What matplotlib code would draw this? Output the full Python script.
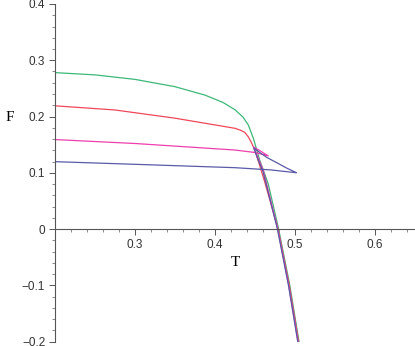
import matplotlib
matplotlib.use('Agg')
import matplotlib.pyplot as plt
import numpy as np
from matplotlib.ticker import MultipleLocator, FuncFormatter

# Data (T, F) for each curve
green_T = [0.200, 0.250, 0.300, 0.350, 0.3875, 0.410, 0.425, 0.435, 0.4416, 0.448, 0.456, 0.4666, 0.4795, 0.4935, 0.5050]
green_F = [0.278, 0.274, 0.266, 0.253, 0.238, 0.225, 0.212, 0.199, 0.185, 0.161, 0.122, 0.080, 0.000, -0.100, -0.200]

red_T = [0.200, 0.275, 0.350, 0.425, 0.4312, 0.4370, 0.4416, 0.445, 0.450, 0.4625, 0.4788, 0.4928, 0.5044]
red_F = [0.219, 0.2116, 0.197, 0.179, 0.176, 0.172, 0.164, 0.155, 0.140, 0.082, 0.000, -0.100, -0.200]

magenta_T = [0.200, 0.300, 0.425, 0.450, 0.4666, 0.4570, 0.4479, 0.4535, 0.4604, 0.4785, 0.4922, 0.5038]
magenta_F = [0.159, 0.152, 0.1404, 0.136, 0.130, 0.1385, 0.146, 0.128, 0.104, 0.000, -0.100, -0.200]

blue_T = [0.200, 0.300, 0.425, 0.470, 0.502, 0.490, 0.477, 0.465, 0.456, 0.4485, 0.4525, 0.4600, 0.4780, 0.4918, 0.5034]
blue_F = [0.1197, 0.115, 0.109, 0.105, 0.100, 0.108, 0.118, 0.127, 0.136, 0.144, 0.128, 0.102, 0.000, -0.100, -0.200]

curves = [
    (green_T, green_F, '#3cb878'),
    (red_T, red_F, '#f0485a'),
    (magenta_T, magenta_F, '#ee3fae'),
    (blue_T, blue_F, '#5a5aa8'),
]

fig = plt.figure(figsize=(4.15, 3.46), dpi=100)
ax = fig.add_axes([55 / 415, 4.5 / 346, 360 / 415, 337.5 / 346])

for T, F, c in curves:
    ax.plot(T, F, color=c, lw=0.9, solid_joinstyle='round')

ax.set_xlim(0.2, 0.65)
ax.set_ylim(-0.2, 0.4)

# Maple style axes: x axis through F=0, y axis at left edge
ax.spines['top'].set_visible(False)
ax.spines['right'].set_visible(False)
ax.spines['bottom'].set_position(('data', 0))
for s in ['left', 'bottom']:
    ax.spines[s].set_color('#555555')
    ax.spines[s].set_linewidth(0.8)

ax.xaxis.set_major_locator(MultipleLocator(0.1))
ax.xaxis.set_minor_locator(MultipleLocator(0.02))
ax.yaxis.set_major_locator(MultipleLocator(0.1))
ax.yaxis.set_minor_locator(MultipleLocator(0.02))


def fmt(v, pos=None):
    if abs(v) < 1e-9:
        return '0'
    return ('%.1f' % v).replace('-', '\u2212')


def xfmt(v, pos=None):
    if abs(v - 0.2) < 1e-9:
        return ''
    return fmt(v)


ax.xaxis.set_major_formatter(FuncFormatter(xfmt))
ax.yaxis.set_major_formatter(FuncFormatter(fmt))
ax.tick_params(which='major', length=4, width=0.7, color='#555555', direction='out',
               labelsize=8.5, labelcolor='#333333', pad=3)
ax.tick_params(which='minor', length=2, width=0.6, color='#777777', direction='out')
for lab in ax.get_xticklabels() + ax.get_yticklabels():
    lab.set_family('Liberation Sans')

ax.text(0.425, -0.059, 'T', fontsize=11, family='Liberation Serif', ha='center', va='center')
fig.text(10 / 415, 1 - 117 / 346, 'F', fontsize=11, family='Liberation Serif', ha='center', va='center')

fig.savefig('out.png', dpi=100)
